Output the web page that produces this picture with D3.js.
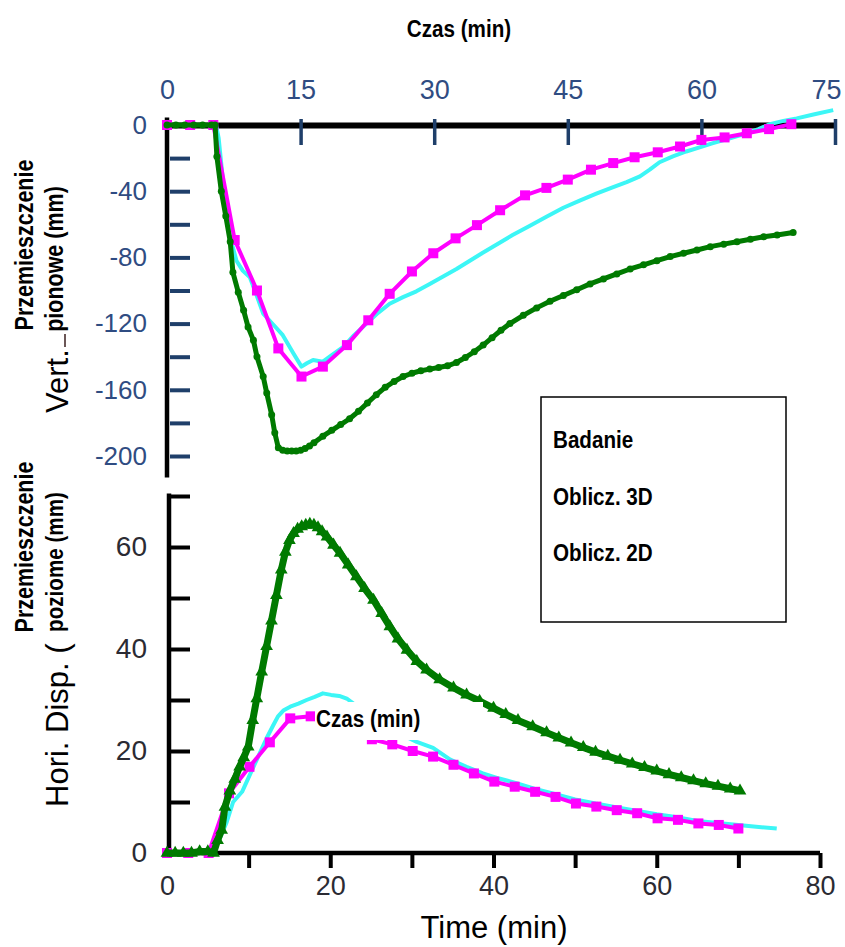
<!DOCTYPE html>
<html>
<head>
<meta charset="utf-8">
<script src="https://cdnjs.cloudflare.com/ajax/libs/d3/7.8.5/d3.min.js"></script>
<style>
  body { margin: 0; background: #fff; }
  svg { display: block; }
  .narrow { font-family: 'Liberation Sans Narrow', 'Arial Narrow', 'Liberation Sans', sans-serif; font-weight: bold; }
  .reg { font-family: 'Liberation Sans', Arial, sans-serif; }
</style>
</head>
<body>
<svg id="chart" width="845" height="947"></svg>
<script>

// vertical displacement (upper panel), time in min
var vertGreenT = [0,1,2,3,4,5,5.4,5.6,6.1,6.6,7.1,7.4,8.0,8.6,9.1,9.7,10.1,10.8,11.2,11.75,12.1,12.5,13,13.5,14,14.5,15,15.5,16,16.5,17.5,18.5,19.5,20.5,21.5,22.5,23.5,24.5,25.5,26.5,27.5,28.5,29.5,30.5,31.5,32.5,33.5,34.5,35.5,36.5,37.5,38.5,40,41.5,43,44.5,46,47.5,49,50.5,52,53.5,55,56.5,58,59.5,61,62.5,64,65.5,67,68.5,70.3];
var vertGreenV = [0,0,0,0,0,0,0,-19,-40,-55,-70.5,-89,-101,-112,-122,-130,-140,-152,-162,-175,-186,-195,-196.5,-197,-197,-197,-196.5,-195.5,-194,-192,-188,-184.5,-181,-177.5,-173,-168,-163,-158.5,-155,-152,-150,-148.5,-147.5,-146.5,-145.5,-143.5,-140.5,-137,-133,-128.5,-124,-120,-115,-110.5,-106.5,-103,-99.5,-96,-93,-90,-87,-84.5,-82,-79.5,-77.5,-75.5,-73.5,-72,-70.5,-69,-67.5,-66.5,-65];

var vertCyanT = [0,5.5,5.8,6.5,7.0,7.8,8.5,9.3,10.0,10.8,12.0,13.0,14.2,15.1,15.7,16.4,17.5,18.5,19.8,21,22.4,23.7,25,26.5,28,29.5,31,32.5,34,35.5,37.4,38.8,40.7,42.6,44.5,46.4,48.2,50.1,51.6,53.1,54.2,55.3,56.8,58.3,59.8,61.3,63.2,65.1,66.4,67.7,69.2,70.7,72.7,74.8];
var vertCyanV = [0,0,-8,-45,-66,-82,-88,-92,-102,-114,-121,-127,-138,-146,-144,-142,-143,-139,-134,-127,-120,-113.5,-108,-104,-100.5,-96,-91.5,-87,-82,-77,-71,-66.5,-61,-55.5,-50,-45.5,-41.5,-37.5,-34.5,-31,-27,-22.5,-19,-16,-13.5,-11,-8,-5,-2.5,0.5,2.5,4,6.5,9];

var vertMagT = [0,2.6,5.2,7.6,10.1,12.5,15.1,17.5,20.2,22.6,25,27.5,29.9,32.4,34.8,37.4,40.2,42.6,45,47.6,50.1,52.5,55.1,57.6,60,62.6,65.1,67.6,70.1];
var vertMagV = [0,0,0,-69.5,-100,-135,-152,-146,-133,-118,-102,-88.5,-77.5,-68.5,-60.5,-51.5,-42.5,-38,-33,-27,-23,-19.5,-16.5,-13,-9,-7.5,-5,-2.5,0.5];

// horizontal displacement (lower panel)
var horiGreenT = [0,1,2,3,4,5,5.7,6.2,6.7,7.1,7.7,8.3,8.9,9.4,9.95,10.5,11.0,11.6,12.2,12.8,13.4,14.0,14.5,15.0,15.5,16.0,16.5,17.0,17.5,18.0,18.5,19.0,19.6,20.4,21.2,22.2,23.2,24.2,25.3,26.3,27.3,28.3,29.4,30.6,31.8,33.4,35.1,36.7,38.3,40,41.5,43,44.8,46.5,48,49.5,51,52.5,54,55.5,57,58.5,60,61.5,63,64.5,66,67.5,69,70.2];
var horiGreenV = [0,0,0,0,0.3,0.3,0,2.5,4.5,9,12.2,14.5,16.9,18.7,20.8,26,30.3,35.5,40.5,45.5,50.5,55.5,59,61.3,62.7,63.5,64,64.3,64.5,64.3,63.8,63,62,60.4,58.8,56.5,54.2,51.9,49.6,47,44.4,42,39.8,37.6,35.9,34,32.4,31,29.8,28.4,27.2,26,24.8,23.6,22.6,21.6,20.7,19.8,19,18.2,17.5,16.8,16.1,15.4,14.8,14.2,13.6,13.1,12.6,12.2];

var horiCyanT = [0,5.5,6.5,7.3,8.1,9.2,10.2,11.2,12.2,13.0,13.6,14.3,15.1,16.1,17.1,18.1,19.1,20.1,21.1,22.1,23.1,24.5,26,27.5,29,30.6,32.6,34.7,36.7,38.7,40.7,42.8,45,47.5,50,52.5,55,57.5,60,62.5,65,67.5,70,72.5,74.7];
var horiCyanV = [0,0,3,6,10,12,15.5,19,22.5,25,26.8,28,28.7,29.3,30,30.6,31.3,31,30.8,30.2,29,27.5,26,24.5,23,21.8,20.6,18.3,16.9,15.6,14.6,13.7,12.6,11.6,10.5,9.7,9,8.3,7.6,7,6.3,5.9,5.5,5.1,4.8];

var horiMagT = [0,2.6,5.1,7.6,10.1,12.6,15.1,17.6,20.1,22.6,25.1,27.6,30.1,32.6,35.1,37.6,40.1,42.6,45.1,47.6,50.1,52.6,55.1,57.6,60.1,62.6,65.1,67.6,70.0];
var horiMagV = [0,0,0,11.7,16.9,21.7,26.4,26.8,25.5,23.8,22.3,21.3,20,18.9,17.3,15.6,14,13,12,11,9.7,9.1,8.4,7.8,6.8,6.5,5.8,5.5,4.8];

// ticks
var topTimeTicks = [0,15,30,45,60,75];
var vertMajor = [0,-40,-80,-120,-160,-200];
var vertMinor = [-20,-40,-60,-80,-100,-120,-140,-160,-180,-200];
var horiMajor = [0,20,40,60];
var horiMinor = [10,20,30,40,50,60,70];
var botTimeLabels = [0,20,40,60,80];
var botTimeTicks = [10,20,30,40,50,60,70,80];

var legendNames = ['Badanie','Oblicz. 3D','Oblicz. 2D'];

var svg = d3.select('#chart');
var regFont = "'Liberation Sans', Arial, sans-serif";
var plainNum = function(d) { return String(d); };

var xTop = d3.scaleLinear().domain([0,75]).range([167,835]);
var yTop = d3.scaleLinear().domain([0,-200]).range([125,456]);
var xBot = d3.scaleLinear().domain([0,80]).range([167,820]);
var yBot = d3.scaleLinear().domain([0,70]).range([853,496]);

function pairs(ts, vs) {
  return ts.map(function(t, i) { return {t: t, v: vs[i]}; });
}

// ---- upper panel axes
svg.append('line')
  .attr('x1', xTop(0)).attr('x2', xTop(0))
  .attr('y1', yTop(4.5)).attr('y2', yTop(-213))
  .style('stroke', '#000').style('stroke-width', '4.5px');

var gTopX = svg.append('g')
  .attr('transform', 'translate(0,' + yTop(0) + ')')
  .call(d3.axisTop(xTop).tickValues(topTimeTicks).tickFormat(plainNum)
    .tickSizeInner(-20).tickSizeOuter(0).tickPadding(26));
gTopX.select('.domain').style('stroke', '#000').style('stroke-width', '6px');
gTopX.selectAll('.tick line').attr('y1', -6).style('stroke', '#1f3f6a').style('stroke-width', '3.5px');
gTopX.selectAll('.tick').filter(function(d){ return d === 0; }).select('line').remove();
gTopX.selectAll('.tick text').attr('font-size', 27).attr('font-family', regFont).attr('fill', '#2f4c82');
gTopX.selectAll('.tick text').filter(function(d){ return d === 75; }).attr('dx', -9);

var gTopYTicks = svg.append('g')
  .attr('transform', 'translate(' + xTop(0) + ',0)')
  .call(d3.axisLeft(yTop).tickValues(vertMinor).tickSizeInner(-23).tickSizeOuter(0).tickFormat(''));
gTopYTicks.select('.domain').remove();
gTopYTicks.selectAll('.tick line').attr('x1', 3).style('stroke', '#1f3f6a').style('stroke-width', '4px');

var gTopYLab = svg.append('g')
  .attr('transform', 'translate(' + xTop(0) + ',0)')
  .call(d3.axisLeft(yTop).tickValues(vertMajor).tickFormat(plainNum).tickSize(0).tickPadding(20));
gTopYLab.select('.domain').remove();
gTopYLab.selectAll('.tick text').attr('font-size', 26).attr('font-family', regFont).attr('fill', '#2f4c82');

// ---- lower panel axes
svg.append('line')
  .attr('x1', xBot(0) + 2).attr('x2', xBot(0) + 2)
  .attr('y1', yBot(70.5)).attr('y2', yBot(-0.4))
  .style('stroke', '#000').style('stroke-width', '4.5px');
svg.append('line')
  .attr('x1', xBot(0)).attr('x2', xBot(80))
  .attr('y1', yBot(0)).attr('y2', yBot(0))
  .style('stroke', '#000').style('stroke-width', '4.5px');

var gBotYTicks = svg.append('g')
  .attr('transform', 'translate(' + (xBot(0) + 2) + ',0)')
  .call(d3.axisLeft(yBot).tickValues(horiMinor).tickSizeInner(-21).tickSizeOuter(0).tickFormat(''));
gBotYTicks.select('.domain').remove();
gBotYTicks.selectAll('.tick line').attr('x1', 2).style('stroke', '#000').style('stroke-width', '4px');

var gBotYLab = svg.append('g')
  .attr('transform', 'translate(' + (xBot(0) + 2) + ',0)')
  .call(d3.axisLeft(yBot).tickValues(horiMajor).tickFormat(plainNum).tickSize(0).tickPadding(22));
gBotYLab.select('.domain').remove();
gBotYLab.selectAll('.tick text').attr('font-size', 28).attr('font-family', regFont).attr('fill', '#2b2b33');

var gBotXTicks = svg.append('g')
  .attr('transform', 'translate(0,' + yBot(0) + ')')
  .call(d3.axisBottom(xBot).tickValues(botTimeTicks).tickSizeInner(15).tickSizeOuter(0).tickFormat(''));
gBotXTicks.select('.domain').remove();
gBotXTicks.selectAll('.tick line').style('stroke', '#000').style('stroke-width', '4px');

var gBotXLab = svg.append('g')
  .attr('transform', 'translate(0,' + yBot(0) + ')')
  .call(d3.axisBottom(xBot).tickValues(botTimeLabels).tickFormat(plainNum).tickSize(0).tickPadding(23));
gBotXLab.select('.domain').remove();
gBotXLab.selectAll('.tick text').attr('font-size', 27).attr('font-family', regFont).attr('fill', '#2b2b33');

// ---- series
function drawSeries(data, xs, ys, color, width) {
  var line = d3.line().x(function(d){ return xs(d.t); }).y(function(d){ return ys(d.v); });
  svg.append('path').datum(data)
    .attr('d', line)
    .style('fill', 'none')
    .style('stroke', color)
    .style('stroke-width', width + 'px')
    .style('stroke-linejoin', 'round');
}

// upper
drawSeries(pairs(vertCyanT, vertCyanV), xTop, yTop, '#3cf6f6', 4);
var vMag = pairs(vertMagT, vertMagV);
drawSeries(vMag, xTop, yTop, '#ff00ff', 4);
svg.append('g').selectAll('rect').data(vMag).enter().append('rect')
  .attr('x', function(d){ return xTop(d.t) - 5; })
  .attr('y', function(d){ return yTop(d.v) - 5; })
  .attr('width', 10).attr('height', 10)
  .style('fill', '#ff00ff');
var vGreen = pairs(vertGreenT, vertGreenV);
drawSeries(vGreen, xTop, yTop, '#007a00', 5);
svg.append('g').selectAll('circle').data(vGreen).enter().append('circle')
  .attr('cx', function(d){ return xTop(d.t); })
  .attr('cy', function(d){ return yTop(d.v); })
  .attr('r', 3.5)
  .style('fill', '#007a00');

// lower
drawSeries(pairs(horiCyanT, horiCyanV), xBot, yBot, '#3cf6f6', 4);
var hMag = pairs(horiMagT, horiMagV);
drawSeries(hMag, xBot, yBot, '#ff00ff', 4);
svg.append('g').selectAll('rect').data(hMag).enter().append('rect')
  .attr('x', function(d){ return xBot(d.t) - 5; })
  .attr('y', function(d){ return yBot(d.v) - 5; })
  .attr('width', 10).attr('height', 10)
  .style('fill', '#ff00ff');
var hGreen = pairs(horiGreenT, horiGreenV);
drawSeries(hGreen, xBot, yBot, '#007a00', 7);
svg.append('g').selectAll('path').data(hGreen).enter().append('path')
  .attr('d', d3.symbol(d3.symbolTriangle).size(70))
  .attr('transform', function(d){ return 'translate(' + xBot(d.t) + ',' + yBot(d.v) + ')'; })
  .style('fill', '#007a00');

// narrow bold text helper (condensed by scaling along the text direction)
function narrowText(x, y, txt, size, anchor, rot) {
  return svg.append('text').attr('class', 'narrow')
    .attr('transform', 'translate(' + x + ',' + y + ')' + (rot ? ' rotate(-90)' : '') + ' scale(0.86,1)')
    .attr('text-anchor', anchor)
    .attr('font-size', size)
    .text(txt);
}

// white patch with label inside the lower panel
svg.append('rect')
  .attr('x', 315).attr('y', 702).attr('width', 168).attr('height', 38)
  .style('fill', '#fff');
narrowText(316, 727, 'Czas (min)', 24, 'start', false);

// ---- titles
narrowText(459, 37, 'Czas (min)', 24, 'middle', false);

narrowText(33, 245, 'Przemieszczenie', 25, 'middle', true);
narrowText(63, 259, 'pionowe (mm)', 25, 'middle', true);
narrowText(33, 547, 'Przemieszczenie', 25, 'middle', true);
narrowText(63, 562, 'poziome (mm)', 24, 'middle', true);

function vText(x, y, txt, size) {
  svg.append('text').attr('class', 'reg')
    .attr('transform', 'translate(' + x + ',' + y + ') rotate(-90)')
    .attr('font-size', size)
    .text(txt);
}
vText(68, 413, 'Vert.', 31);
vText(68, 807, 'Hori. Disp. (', 31);

svg.append('line')
  .attr('x1', 65).attr('x2', 65).attr('y1', 334).attr('y2', 347)
  .style('stroke', '#3a1f1f').style('stroke-width', '1.5px');

svg.append('text').attr('class', 'reg')
  .attr('x', 494).attr('y', 938).attr('text-anchor', 'middle').attr('font-size', 31)
  .text('Time (min)');

// ---- legend (text only)
svg.append('rect')
  .attr('x', 541).attr('y', 397).attr('width', 245).attr('height', 225)
  .style('fill', '#fff').style('stroke', '#000').style('stroke-width', '1.5px');
legendNames.forEach(function(name, i) {
  narrowText(553, 448 + i * 56.5, name, 24, 'start', false);
});

</script>
</body>
</html>
